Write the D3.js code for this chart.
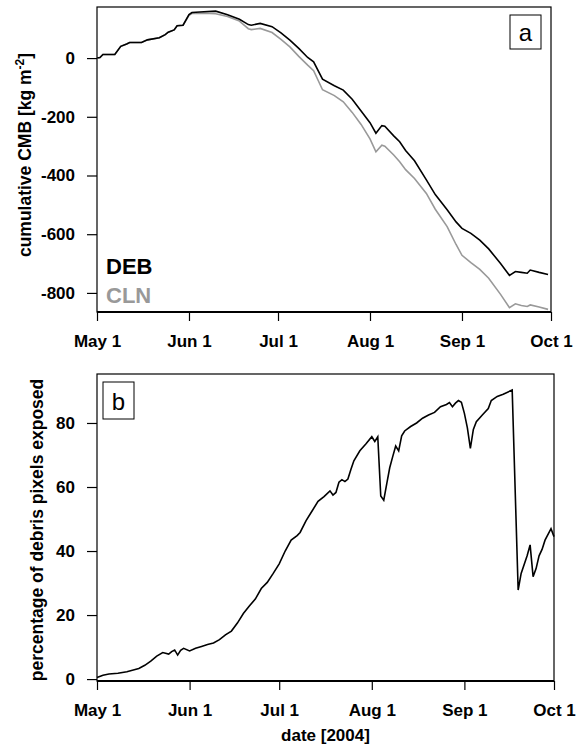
<!DOCTYPE html>
<html>
<head>
<meta charset="utf-8">
<script src="https://d3js.org/d3.v7.min.js"></script>
<style>
  body { margin: 0; background: #fff; }
  text { font-family: "Liberation Sans", Arial, sans-serif; }
</style>
</head>
<body>
<svg id="chart" width="585" height="748"></svg>
<script>
// days since May 1 2004
var cmbDays = [0, 1, 2, 6, 8, 10, 11, 15, 17, 21, 23, 24, 26, 27, 29, 31, 32, 36, 40, 44, 48, 51, 52, 55, 59,
  62, 65, 68, 71, 73, 76, 80, 83, 86, 89, 92, 94, 96, 97, 100, 102, 104, 107, 111, 114, 118, 121, 123,
  126, 129, 132, 136, 139, 141, 143, 145, 146, 149, 152];
var debCMB = [0, 2, 12, 12, 40, 48, 53, 53, 62, 69, 80, 88, 96, 110, 112, 148, 155, 158, 160, 148, 132, 114, 112, 118, 107,
  86, 61, 33, 2, -13, -72, -94, -109, -140, -180, -220, -256, -230, -232, -265, -285, -315, -350, -415, -465, -517, -558, -580,
  -597, -620, -650, -700, -740, -727, -730, -733, -722, -730, -737];
var clnCMB = [0, 2, 12, 12, 40, 48, 53, 53, 62, 69, 80, 88, 96, 110, 112, 146, 152, 153, 151, 142, 126, 100, 97, 101, 87,
  64, 38, 6, -24, -43, -108, -128, -149, -185, -226, -275, -319, -297, -300, -330, -353, -380, -410, -461, -515, -574, -635, -672,
  -697, -720, -750, -805, -850, -837, -843, -846, -841, -848, -856];

// days since May 1 2004
var debrisDays = [0, 2, 4, 7, 10, 14, 16, 18, 20, 22, 24, 25, 26, 27, 28, 29, 31, 33, 35, 37, 39, 41, 43, 45, 47, 49,
  51, 53, 55, 57, 59, 61, 63, 65, 67, 68, 70, 72, 74, 76, 78, 79, 80, 81, 82, 83, 84, 85, 86, 88, 90, 92, 93, 94,
  95, 96, 97, 98, 99, 100, 101, 102, 103, 105, 107, 109, 111, 113, 115, 117, 118, 119, 120, 121, 122, 123, 124,
  125, 126, 127, 129, 131, 132, 134, 136, 139, 141, 142, 144, 145, 146, 147, 148, 149, 150, 152, 153];
var debrisPct = [0.5, 1.2, 1.6, 1.8, 2.3, 3.3, 4.3, 5.6, 7.2, 8.3, 7.8, 8.6, 9.1, 7.5, 9.0, 9.6, 8.8, 9.6, 10.2, 10.8, 11.3, 12.3, 13.8, 15.0, 17.5, 20.5,
  22.8, 25.0, 28.3, 30.2, 33.0, 36.0, 40.0, 43.4, 44.8, 45.8, 49.5, 52.5, 55.5, 57.0, 58.8, 57.5, 58.3, 61.5, 62.3, 61.7, 62.5, 65.5, 68.2, 71.3, 73.4, 75.7, 74.2, 75.7,
  57.2, 55.9, 61.0, 66.0, 69.5, 72.8, 71.3, 76.0, 77.5, 78.9, 80.0, 81.5, 82.5, 83.3, 85.1, 85.8, 86.4, 85.1, 86.2, 87.0, 86.5, 83.0, 78.5,
  72.1, 78.0, 80.4, 82.5, 84.5, 87.0, 88.3, 89.0, 90.3, 27.8, 33.0, 38.5, 41.9, 32.0, 34.5, 38.5, 40.5, 43.4, 47.0, 44.5];

var monthTicks = ["2004-05-01", "2004-06-01", "2004-07-01", "2004-08-01", "2004-09-01", "2004-10-01"];
var monthLabels = ["May 1", "Jun 1", "Jul 1", "Aug 1", "Sep 1", "Oct 1"];
var cmbTicks = [0, -200, -400, -600, -800];
var pctTicks = [0, 20, 40, 60, 80];

var svg = d3.select("#chart");
var start = new Date(2004, 4, 1);
var toDate = function(d) { return d3.timeDay.offset(start, d); };
var tickDates = monthTicks.map(function(s) { return d3.timeParse("%Y-%m-%d")(s); });

function panel(opts) {
  var g = svg.append("g");
  var x = d3.scaleTime().domain([start, new Date(2004, 9, 1)]).range([opts.left, opts.right]);
  var y = d3.scaleLinear().domain(opts.ydomain).range([opts.bottom, opts.top]);

  // y axis (plain hyphen for negatives, like the original)
  var ya = g.append("g").attr("transform", "translate(" + opts.left + ",0)")
    .call(d3.axisLeft(y).tickValues(opts.yticks).tickSize(10).tickPadding(12)
      .tickFormat(function(d) { return String(d); }));
  ya.select(".domain").remove();
  ya.selectAll("line").attr("stroke", "#000").attr("stroke-width", 1.2);
  ya.selectAll("text").attr("font-size", 17).attr("font-weight", "bold")
    .attr("font-family", "Liberation Sans, Arial, sans-serif").attr("fill", "#000");

  // x axis
  var xa = g.append("g").attr("transform", "translate(0," + opts.bottom + ")")
    .call(d3.axisBottom(x).tickValues(tickDates).tickSize(9).tickPadding(14)
      .tickFormat(function(d, i) { return monthLabels[i]; }));
  xa.select(".domain").remove();
  xa.selectAll("line").attr("stroke", "#000").attr("stroke-width", 1.2);
  xa.selectAll("text").attr("font-size", 17).attr("font-weight", "bold")
    .attr("font-family", "Liberation Sans, Arial, sans-serif").attr("fill", "#000");

  // box
  g.append("rect")
    .attr("x", opts.left).attr("y", opts.top)
    .attr("width", opts.right - opts.left).attr("height", opts.bottom - opts.top)
    .attr("fill", "none").attr("stroke", "#000").attr("stroke-width", 1.2);
  g.append("line").attr("x1", opts.left).attr("x2", opts.right)
    .attr("y1", opts.bottom).attr("y2", opts.bottom)
    .attr("stroke", "#000").attr("stroke-width", 2);

  // y title
  g.append("text")
    .attr("transform", "translate(" + opts.ytitleX + "," + opts.ytitleY + ") rotate(-90)")
    .attr("text-anchor", "middle").attr("font-size", 17.5).attr("font-weight", "bold")
    .call(opts.ytitle);

  return { g: g, x: x, y: y };
}

// panel a
var pa = panel({
  left: 97, right: 551, top: 7, bottom: 312, ydomain: [-865, 174], yticks: cmbTicks,
  ytitleX: 31, ytitleY: 155,
  ytitle: function(t) {
    t.append("tspan").text("cumulative CMB [kg m");
    t.append("tspan").attr("font-size", 12).attr("dy", -7).text("-2");
    t.append("tspan").attr("dy", 7).text("]");
  }
});

var lineA = d3.line()
  .x(function(d) { return pa.x(toDate(d[0])); })
  .y(function(d) { return pa.y(d[1]); });

pa.g.append("path").datum(d3.zip(cmbDays, clnCMB))
  .attr("d", lineA).attr("fill", "none").attr("stroke", "#999").attr("stroke-width", 1.6);
pa.g.append("path").datum(d3.zip(cmbDays, debCMB))
  .attr("d", lineA).attr("fill", "none").attr("stroke", "#000").attr("stroke-width", 1.6);

pa.g.append("text").attr("x", 106).attr("y", 274).attr("font-size", 22).attr("font-weight", "bold")
  .attr("fill", "#000").text("DEB");
pa.g.append("text").attr("x", 106).attr("y", 303).attr("font-size", 22).attr("font-weight", "bold")
  .attr("fill", "#999").text("CLN");

pa.g.append("rect").attr("x", 510).attr("y", 15).attr("width", 31).attr("height", 34)
  .attr("fill", "#fff").attr("stroke", "#000").attr("stroke-width", 1);
pa.g.append("text").attr("x", 525.5).attr("y", 41).attr("text-anchor", "middle")
  .attr("font-size", 24).text("a");

// panel b
var pb = panel({
  left: 97, right: 554, top: 374, bottom: 681, ydomain: [-0.6, 95.3], yticks: pctTicks,
  ytitleX: 43, ytitleY: 530,
  ytitle: function(t) { t.text("percentage of debris pixels exposed"); }
});

var lineB = d3.line()
  .x(function(d) { return pb.x(toDate(d[0])); })
  .y(function(d) { return pb.y(d[1]); });

pb.g.append("path").datum(d3.zip(debrisDays, debrisPct))
  .attr("d", lineB).attr("fill", "none").attr("stroke", "#000").attr("stroke-width", 1.6);

pb.g.append("rect").attr("x", 103).attr("y", 382).attr("width", 31).attr("height", 37)
  .attr("fill", "#fff").attr("stroke", "#000").attr("stroke-width", 1);
pb.g.append("text").attr("x", 118.5).attr("y", 410).attr("text-anchor", "middle")
  .attr("font-size", 24).text("b");

svg.append("text").attr("x", 325.5).attr("y", 741).attr("text-anchor", "middle")
  .attr("font-size", 17).attr("font-weight", "bold").text("date [2004]");
</script>
</body>
</html>
